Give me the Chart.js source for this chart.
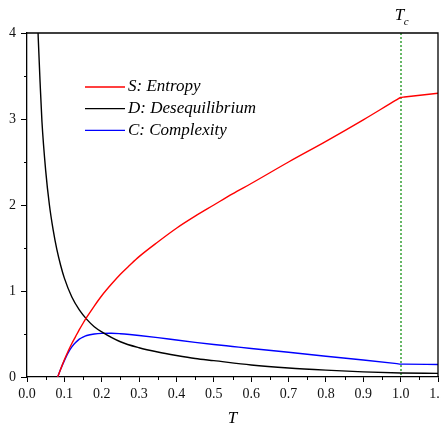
<!DOCTYPE html>
<html>
<head>
<meta charset="utf-8">
<script src="https://cdn.jsdelivr.net/npm/chart.js@4/dist/chart.umd.min.js"></script>
<style>
  html, body { margin: 0; padding: 0; background: #fff; }
  #wrap { width: 441px; height: 427px; }
</style>
</head>
<body>
<div id="wrap"><canvas id="plot" width="441" height="427"></canvas></div>
<script>
// temperature grid and curves (extra points around Tc keep the kink sharp)
const tS = [0.082, 0.09, 0.10, 0.11, 0.12, 0.13, 0.14, 0.15, 0.16, 0.18, 0.20, 0.225, 0.25, 0.275, 0.30, 0.35, 0.40, 0.45, 0.50, 0.55, 0.60, 0.70, 0.80, 0.90, 0.99, 1.00, 1.01, 1.10];
const entropy = [0, 0.09, 0.20, 0.30, 0.39, 0.47, 0.55, 0.625, 0.695, 0.825, 0.945, 1.075, 1.195, 1.30, 1.40, 1.57, 1.73, 1.87, 2.00, 2.13, 2.25, 2.50, 2.74, 2.99, 3.225, 3.25, 3.255, 3.30];
const complexity = [0, 0.09, 0.19, 0.28, 0.35, 0.40, 0.44, 0.465, 0.483, 0.50, 0.507, 0.508, 0.503, 0.494, 0.483, 0.458, 0.43, 0.403, 0.378, 0.355, 0.332, 0.287, 0.242, 0.197, 0.155, 0.15, 0.1495, 0.145];

const tD = [0.026, 0.03, 0.035, 0.04, 0.05, 0.06, 0.07, 0.08, 0.09, 0.10, 0.12, 0.14, 0.16, 0.18, 0.20, 0.25, 0.30, 0.35, 0.40, 0.45, 0.50, 0.60, 0.70, 0.80, 0.90, 1.00, 1.10];
const desequilibrium = [4.5, 3.95, 3.43, 2.97, 2.40, 2.00, 1.71, 1.48, 1.30, 1.15, 0.93, 0.78, 0.67, 0.585, 0.525, 0.41, 0.34, 0.29, 0.25, 0.215, 0.19, 0.14, 0.105, 0.08, 0.06, 0.047, 0.042];

const seriesNames = ["S: Entropy", "D: Desequilibrium", "C: Complexity"];
const seriesColors = ["#ff0000", "#000000", "#0000ff"];

const xTicks = [0, 0.1, 0.2, 0.3, 0.4, 0.5, 0.6, 0.7, 0.8, 0.9, 1.0, 1.1];
const yTicks = [0, 1, 2, 3, 4];
const Tc = 1.0;

function pts(xs, ys) {
  return xs.map((x, i) => ({ x: x, y: ys[i] }));
}

const SERIF = "'Liberation Serif', 'Times New Roman', serif";

// frame, minor ticks, critical line and legend
const decorations = {
  id: "decorations",
  beforeDatasetsDraw(chart) {
    const { ctx, chartArea: a, scales } = chart;
    const xc = Math.round(scales.x.getPixelForValue(Tc));
    ctx.save();
    ctx.strokeStyle = "#66b866";
    ctx.lineWidth = 2;
    ctx.setLineDash([2, 2]);
    ctx.beginPath();
    ctx.moveTo(xc, a.top);
    ctx.lineTo(xc, a.bottom);
    ctx.stroke();
    ctx.restore();
  },
  afterDatasetsDraw(chart) {
    const { ctx, chartArea: a, scales } = chart;
    ctx.save();
    ctx.strokeStyle = "#000";
    ctx.lineWidth = 1.3;
    ctx.beginPath();
    ctx.moveTo(a.left, a.top);
    ctx.lineTo(a.right, a.top);
    ctx.lineTo(a.right, a.bottom);
    ctx.stroke();

    // minor ticks halfway between majors
    ctx.lineWidth = 1;
    ctx.beginPath();
    for (let i = 0; i < xTicks.length - 1; i++) {
      const px = Math.round(scales.x.getPixelForValue((xTicks[i] + xTicks[i + 1]) / 2)) + 0.5;
      ctx.moveTo(px, a.bottom);
      ctx.lineTo(px, a.bottom + 3);
    }
    for (let i = 0; i < yTicks.length - 1; i++) {
      const py = Math.round(scales.y.getPixelForValue((yTicks[i] + yTicks[i + 1]) / 2)) + 0.5;
      ctx.moveTo(a.left, py);
      ctx.lineTo(a.left - 3, py);
    }
    ctx.stroke();

    // T_c label
    const xc = scales.x.getPixelForValue(Tc);
    ctx.fillStyle = "#000";
    ctx.textBaseline = "alphabetic";
    ctx.textAlign = "left";
    ctx.font = "italic 17px " + SERIF;
    ctx.fillText("T", xc - 6, 20);
    ctx.font = "italic 11px " + SERIF;
    ctx.fillText("c", xc + 3, 25);

    // legend
    ctx.font = "italic 17px " + SERIF;
    ctx.textBaseline = "middle";
    chart.data.datasets.forEach((ds, i) => {
      const y = 87 + i * 21.7;
      ctx.strokeStyle = ds.borderColor;
      ctx.lineWidth = 1.3;
      ctx.beginPath();
      ctx.moveTo(85, y);
      ctx.lineTo(125, y);
      ctx.stroke();
      ctx.fillStyle = "#000";
      ctx.fillText(ds.label, 128, y);
    });
    ctx.restore();
  }
};

new Chart(document.getElementById("plot"), {
  type: "line",
  data: {
    datasets: [
      { label: seriesNames[0], data: pts(tS, entropy), borderColor: seriesColors[0] },
      { label: seriesNames[1], data: pts(tD, desequilibrium), borderColor: seriesColors[1] },
      { label: seriesNames[2], data: pts(tS, complexity), borderColor: seriesColors[2] }
    ]
  },
  options: {
    responsive: false,
    animation: false,
    layout: { padding: { top: 33, right: 3, left: 0, bottom: 0 } },
    elements: {
      line: { borderWidth: 1.4, cubicInterpolationMode: "monotone", fill: false },
      point: { radius: 0 }
    },
    plugins: { legend: { display: false }, tooltip: { enabled: false } },
    scales: {
      x: {
        type: "linear",
        min: 0,
        max: 1.1,
        border: { color: "#000", width: 1.3 },
        grid: { drawOnChartArea: false, tickLength: 5, color: "#000", lineWidth: 1 },
        afterBuildTicks(s) { s.ticks = xTicks.map(v => ({ value: v })); },
        ticks: {
          color: "#111",
          padding: 4,
          maxRotation: 0,
          autoSkip: false,
          font: { family: SERIF, size: 14 },
          callback: v => v.toFixed(1)
        },
        title: {
          display: true,
          text: "T",
          color: "#000",
          padding: { top: 0, bottom: 0 },
          font: { family: SERIF, size: 17, style: "italic", lineHeight: 1 }
        },
        afterFit(s) { s.height = 50; s.paddingLeft = 0; s.paddingRight = 0; }
      },
      y: {
        min: 0,
        max: 4,
        border: { color: "#000", width: 1.3 },
        grid: { drawOnChartArea: false, tickLength: 6, color: "#000", lineWidth: 1 },
        afterBuildTicks(s) { s.ticks = yTicks.map(v => ({ value: v })); },
        ticks: {
          color: "#111",
          padding: 5,
          font: { family: SERIF, size: 14 },
          callback: v => String(v)
        },
        afterFit(s) { s.width = 27; s.paddingTop = 0; s.paddingBottom = 0; }
      }
    }
  },
  plugins: [decorations]
});
</script>
</body>
</html>
